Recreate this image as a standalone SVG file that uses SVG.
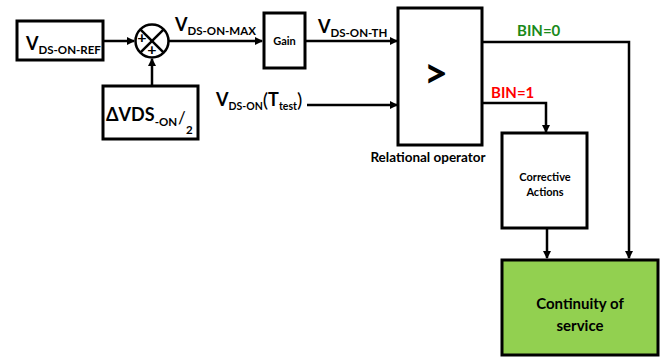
<svg xmlns="http://www.w3.org/2000/svg" width="670" height="361" viewBox="0 0 670 361">
<style>
text{font-family:Lato,"Open Sans","Liberation Sans",sans-serif;font-weight:bold;fill:#000}
.box{fill:#fff;stroke:#000;stroke-width:3}
.ln{fill:none;stroke:#000;stroke-width:2.5}
.big{font-size:18px}
.sub{font-size:11.5px}
</style>
<defs>
<marker id="ah" markerWidth="8" markerHeight="8" refX="7" refY="4" orient="auto" markerUnits="userSpaceOnUse">
<path d="M0,0 L8,4 L0,8 Z" fill="#000"/>
</marker>
</defs>
<rect width="670" height="361" fill="#fff"/>
<g id="connectors">
<line class="ln" x1="103" y1="41" x2="134" y2="41" marker-end="url(#ah)"/>
<line class="ln" x1="152" y1="86" x2="152" y2="59" marker-end="url(#ah)"/>
<line class="ln" x1="169" y1="41" x2="262" y2="41" marker-end="url(#ah)"/>
<line class="ln" x1="305" y1="41" x2="397" y2="41" marker-end="url(#ah)"/>
<line class="ln" x1="307" y1="105" x2="397" y2="105" marker-end="url(#ah)"/>
<polyline class="ln" points="482,42 629,42 629,258" marker-end="url(#ah)"/>
<polyline class="ln" points="482,103 546,103 546,132" marker-end="url(#ah)"/>
<line class="ln" x1="547" y1="229" x2="547" y2="258" marker-end="url(#ah)"/>
</g>
<g id="vref">
<rect class="box" x="17" y="21" width="86" height="39"/>
<text x="26" y="50"><tspan class="big">V</tspan><tspan class="sub" y="54">DS-ON-REF</tspan></text>
</g>
<g id="sum">
<circle cx="152" cy="41" r="16.5" fill="#fff" stroke="#000" stroke-width="2.5"/>
<line class="ln" x1="140.3" y1="29.3" x2="163.7" y2="52.7"/>
<line class="ln" x1="163.7" y1="29.3" x2="140.3" y2="52.7"/>
<text x="142" y="43" font-size="16" text-anchor="middle">+</text>
<text x="152" y="55" font-size="16" text-anchor="middle">+</text>
</g>
<g id="dvds">
<rect class="box" x="103" y="86" width="95" height="53"/>
<text x="106" y="121"><tspan class="big">ΔVDS</tspan><tspan class="sub" y="126">-ON</tspan><tspan font-size="17" font-weight="normal" x="178" y="124">/</tspan><tspan class="sub" x="186" y="134">2</tspan></text>
</g>
<text x="175" y="31"><tspan class="big">V</tspan><tspan class="sub" y="35">DS-ON-MAX</tspan></text>
<g id="gain">
<rect class="box" x="264" y="13" width="41" height="55"/>
<text x="284.5" y="45" font-size="11" text-anchor="middle">Gain</text>
</g>
<text x="318" y="33"><tspan class="big">V</tspan><tspan class="sub" y="37">DS-ON-TH</tspan></text>
<text x="216" y="106"><tspan class="big">V</tspan><tspan font-size="10.5" y="110">DS-ON</tspan><tspan font-size="20" font-weight="normal" y="107">(</tspan><tspan class="big" y="106">T</tspan><tspan font-size="10.5" y="110">test</tspan><tspan font-size="20" font-weight="normal" y="107">)</tspan></text>
<g id="relational">
<rect class="box" x="398" y="8" width="84" height="137"/>
<text x="436" y="88" font-size="42" text-anchor="middle">&gt;</text>
<text x="428" y="162" font-size="13.5" text-anchor="middle">Relational operator</text>
</g>
<text x="517" y="36" font-size="15" style="fill:#1a8a1a">BIN=0</text>
<text x="491" y="98" font-size="15" style="fill:#ff0000">BIN=1</text>
<g id="corrective">
<rect class="box" x="502" y="133" width="85" height="95"/>
<text x="545" y="181" font-size="11" text-anchor="middle">Corrective</text>
<text x="545" y="196" font-size="11" text-anchor="middle">Actions</text>
</g>
<g id="continuity">
<rect x="502" y="260" width="156" height="95" fill="#92d050" stroke="#000" stroke-width="3"/>
<text x="580" y="309" font-size="15" text-anchor="middle">Continuity of</text>
<text x="580" y="331" font-size="15" text-anchor="middle">service</text>
</g>
</svg>
